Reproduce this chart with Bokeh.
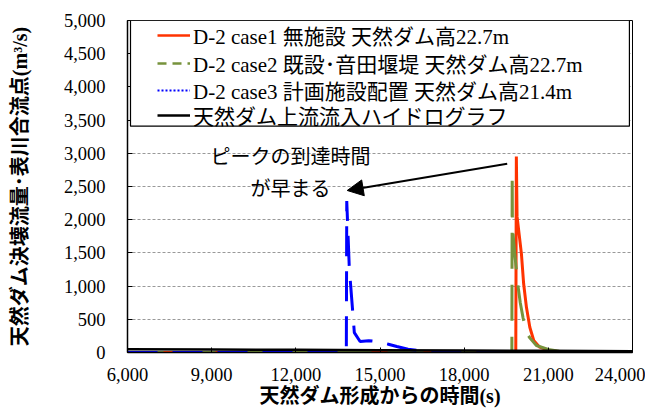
from bokeh.plotting import figure
from bokeh.models import (Legend, LegendItem, NumeralTickFormatter, FixedTicker, Arrow,
                          NormalHead, Label, BoxAnnotation, Range1d)
from bokeh.embed import file_html
from bokeh.resources import INLINE

# ---- data ----
x_ticks = [6000, 9000, 12000, 15000, 18000, 21000, 24000]
y_ticks = [0, 500, 1000, 1500, 2000, 2500, 3000, 3500, 4000, 4500, 5000]

case1_t = [6000, 19840, 19860, 19885, 20040, 20120, 20220, 20340, 20480, 20690, 21000, 21400, 22500, 24000]
case1_q = [0, 0, 2950, 2050, 1490, 1035, 680, 380, 180, 80, 35, 10, 3, 1]

case2_t = [6000, 19700, 19712, 19720, 19800, 19920, 20000, 20100, 20220, 20340, 20575, 21050, 21500, 22500, 24000]
case2_q = [0, 0, 2700, 1900, 1500, 1000, 750, 520, 300, 220, 105, 40, 10, 3, 1]

case3_t = [6000, 13800, 13815, 13905, 14085, 14290, 14600, 14900, 15300, 15600, 16000, 16500, 17000, 18000, 24000]
case3_q = [0, 0, 2280, 1280, 300, 165, 178, 165, 125, 90, 50, 22, 10, 4, 1]

inflow_t = [6000, 9000, 12000, 15000, 18000, 21000, 24000]
inflow_q = [50, 45, 40, 35, 30, 25, 20]

labels = ["D-2 case1 無施設 天然ダム高22.7m",
          "D-2 case2 既設･音田堰堤 天然ダム高22.7m",
          "D-2 case3 計画施設配置 天然ダム高21.4m",
          "天然ダム上流流入ハイドログラフ"]

RED = "#FF3300"
GREEN = "#77933C"
BLUE = "#0000FF"
MIXED = "'Liberation Serif', 'Noto Sans CJK JP'"

p = figure(width=645, height=410, output_backend="svg", toolbar_location=None,
           x_range=Range1d(6000, 24000), y_range=Range1d(0, 5000),
           min_border_left=127, min_border_right=13, min_border_top=20, min_border_bottom=58,
           background_fill_color="white", border_fill_color="white")
p.outline_line_color = "black"
p.outline_line_width = 1

# series
p.line(case1_t, case1_q, line_color=RED, line_width=3)
p.line(case2_t, case2_q, line_color=GREEN, line_width=3, line_dash="36 16")
p.line(case3_t, case3_q, line_color=BLUE, line_width=3, line_dash="30 15")
p.line(inflow_t, inflow_q, line_color="black", line_width=2.5)

# legend samples (hidden copies with the legend's line style)
l1 = p.line(inflow_t, inflow_q, line_color=RED, line_width=2.5, visible=False)
l2 = p.line(inflow_t, inflow_q, line_color=GREEN, line_width=2.5, line_dash="9 6", visible=False)
l3 = p.line(inflow_t, inflow_q, line_color=BLUE, line_width=2, line_dash="2 2", visible=False)
l4 = p.line(inflow_t, inflow_q, line_color="black", line_width=2.5, visible=False)

# axes
p.xaxis.ticker = FixedTicker(ticks=x_ticks)
p.yaxis.ticker = FixedTicker(ticks=y_ticks)
p.xaxis.formatter = NumeralTickFormatter(format="0,0")
p.yaxis.formatter = NumeralTickFormatter(format="0,0")
for ax in (p.xaxis, p.yaxis):
    ax.major_tick_in = 5
    ax.major_tick_out = 0
    ax.minor_tick_line_color = None
    ax.axis_line_color = "black"
    ax.axis_line_width = 1.5
    ax.major_tick_line_color = "black"
    ax.major_label_text_font = "Liberation Serif"
    ax.major_label_text_font_size = "18.5px"
    ax.major_label_text_color = "black"
    ax.axis_label_text_font = MIXED
    ax.axis_label_text_font_style = "bold"
    ax.axis_label_text_font_size = "20px"
    ax.axis_label_text_color = "black"
p.yaxis.axis_label = "天然ダム決壊流量･表川合流点(m³/s)"
p.xaxis.axis_label = "天然ダム形成からの時間(s)"
p.xaxis.major_label_standoff = 15
p.xaxis.axis_label_standoff = 1
p.yaxis.major_label_standoff = 22
p.yaxis.axis_label_standoff = 30

p.xgrid.visible = False
p.ygrid.grid_line_color = "#999999"
p.ygrid.grid_line_dash = "3 2"
p.ygrid.grid_line_width = 1

# legend frame
box = BoxAnnotation(left=6107, right=23890, top=5000, bottom=3408,
                    fill_color="white", fill_alpha=1.0, line_color="black", line_width=1.2,
                    line_alpha=1.0)
p.add_layout(box)

# one single-row legend per entry, stacked at the reference's row pitch
row_vy = [297, 269, 242, 217]
for lab, rend, vy in zip(labels, [l1, l2, l3, l4], row_vy):
    lg = Legend(items=[LegendItem(label=lab, renderers=[rend])],
                location=(30, vy), padding=0, spacing=0, margin=0,
                label_height=40, glyph_height=40, glyph_width=33, label_standoff=3,
                border_line_color=None, background_fill_alpha=0, inactive_fill_alpha=0,
                label_text_font=MIXED, label_text_font_size="21px", label_text_color="black")
    p.add_layout(lg)

# annotation
p.add_layout(Label(x=11810, y=2967, text="ピークの到達時間", text_align="center",
                   text_baseline="middle", text_font="Noto Sans CJK JP",
                   text_font_size="20px", text_color="black"))
p.add_layout(Label(x=11810, y=2485, text="が早まる", text_align="center",
                   text_baseline="middle", text_font="Noto Sans CJK JP",
                   text_font_size="20px", text_color="black"))
p.add_layout(Arrow(end=NormalHead(size=16, fill_color="black", line_color="black"),
                   x_start=19534, y_start=2842, x_end=13831, y_end=2440,
                   line_color="black", line_width=2))

open("out.html", "w").write(file_html(p, INLINE))
